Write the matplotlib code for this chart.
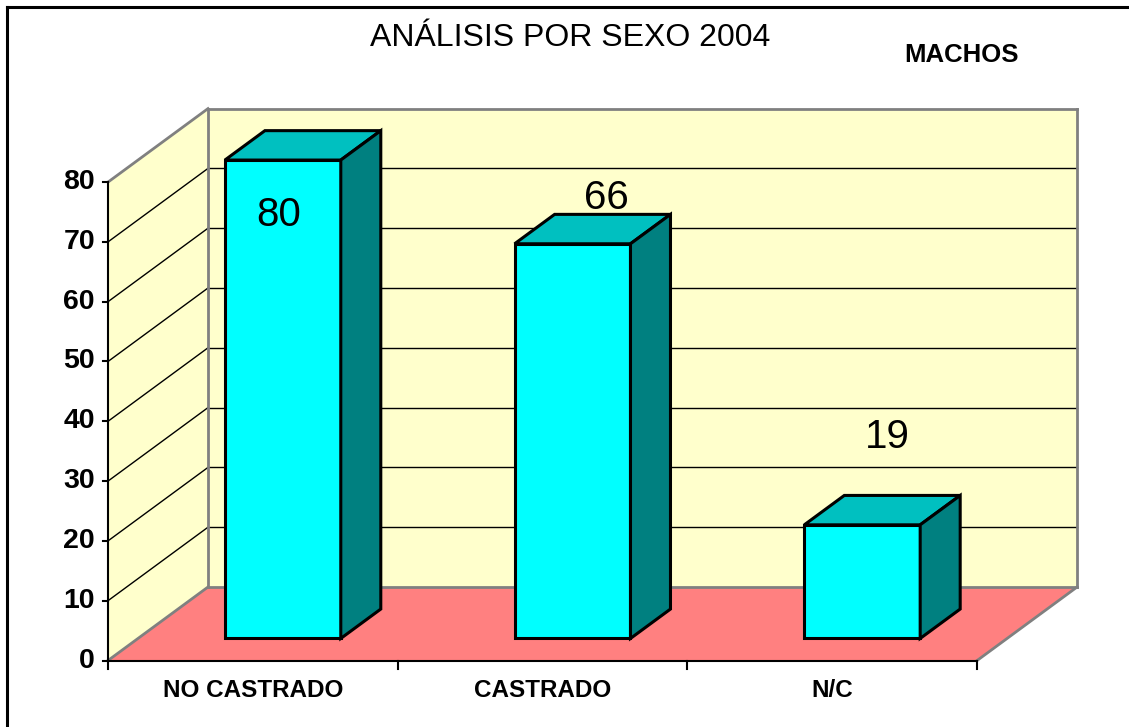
import matplotlib.pyplot as plt
from matplotlib.patches import Polygon
from matplotlib.lines import Line2D

categories = ['NO CASTRADO', 'CASTRADO', 'N/C']
values = [80, 66, 19]
yticks = [0, 10, 20, 30, 40, 50, 60, 70, 80]
title = 'ANÁLISIS POR SEXO 2004'
subtitle = 'MACHOS'

plt.rcParams['font.family'] = 'Liberation Sans'

W, H = 1129, 727
fig = plt.figure(figsize=(W / 100, H / 100), dpi=100)
ax = fig.add_axes([0, 0, 1, 1])

# front plane: one category = sx px, one value unit = sy px, origin at (ox, oy) px
sx, sy = 289.7, 5.98
ox, oy = 108, 660.5
ax.set_xlim(-ox / sx, (W - ox) / sx)
ax.set_ylim(-(H - oy) / sy, oy / sy)
ax.axis('off')

# full depth offset of the 3d box
DX, DY = 100 / sx, 73.5 / sy


def P(x, y, d):
    return (x + d * DX, y + d * DY)


n = len(categories)
ymax = yticks[-1]

# walls and floor
ax.add_patch(Polygon([P(0, 0, 0), P(0, 0, 1), P(0, ymax, 1), P(0, ymax, 0)],
                     fc='#FFFFCC', ec='none', zorder=1))
ax.add_patch(Polygon([P(0, 0, 1), P(n, 0, 1), P(n, ymax, 1), P(0, ymax, 1)],
                     fc='#FFFFCC', ec='none', zorder=1))
ax.add_patch(Polygon([P(0, 0, 0), P(n, 0, 0), P(n, 0, 1), P(0, 0, 1)],
                     fc='#FF8080', ec='none', zorder=1))

# gridlines on back and left wall
for v in yticks[1:-1]:
    a, b = P(0, v, 1), P(n, v, 1)
    ax.plot([a[0], b[0]], [a[1], b[1]], color='black', lw=1, zorder=2)
    a, b = P(0, v, 0), P(0, v, 1)
    ax.plot([a[0], b[0]], [a[1], b[1]], color='black', lw=1, zorder=2)

# grey box edges
edges = [
    (P(0, ymax, 1), P(n, ymax, 1)),
    (P(n, ymax, 1), P(n, 0, 1)),
    (P(0, 0, 1), P(n, 0, 1)),
    (P(0, 0, 1), P(0, ymax, 1)),
    (P(0, ymax, 0), P(0, ymax, 1)),
    (P(0, 0, 0), P(0, 0, 1)),
    (P(n, 0, 0), P(n, 0, 1)),
]
for a, b in edges:
    ax.plot([a[0], b[0]], [a[1], b[1]], color='#808080', lw=2, zorder=2,
            solid_capstyle='projecting')

# front axes
ax.plot([0, 0], [0, ymax], color='black', lw=1.5, zorder=3)
ax.plot([0, n], [0, 0], color='black', lw=1.5, zorder=3)
for v in yticks:
    ax.plot([-5 / sx, 0], [v, v], color='black', lw=1.5, zorder=3)
    ax.text(-13 / sx, v, str(v), ha='right', va='center', fontsize=20.5,
            fontweight='bold')
for i in range(n + 1):
    ax.plot([i, i], [0, -8 / sy], color='black', lw=1.5, zorder=3)
for i, c in enumerate(categories):
    ax.text(i + 0.5, -5, c, ha='center', va='center', fontsize=17.5,
            fontweight='bold')

# bars
w0, w1 = 0.3, 0.7
d0, d1 = 0.3, 0.7
for i, v in enumerate(values):
    x0, x1 = i + w0, i + w1
    front = [P(x0, 0, d0), P(x1, 0, d0), P(x1, v, d0), P(x0, v, d0)]
    top = [P(x0, v, d0), P(x1, v, d0), P(x1, v, d1), P(x0, v, d1)]
    side = [P(x1, 0, d0), P(x1, 0, d1), P(x1, v, d1), P(x1, v, d0)]
    for poly, col in [(front, '#00FFFF'), (top, '#00C0C0'), (side, '#008080')]:
        ax.add_patch(Polygon(poly, fc=col, ec='black', lw=2.2,
                             joinstyle='miter', zorder=4))

# value labels
label_dx = [0.09, 0.22, 0.19]
label_dy = [-5.5, 11.3, 18.4]
for i, v in enumerate(values):
    ax.text(i + 0.5 + label_dx[i], v + label_dy[i], str(v), ha='center',
            va='center', fontsize=29, zorder=5)

fig.text(570 / W, 1 - 38 / H, title, ha='center', va='center', fontsize=23)
fig.text(962 / W, 1 - 55 / H, subtitle, ha='center', va='center', fontsize=18.5,
         fontweight='bold')

# outer frame, only top and left edges are inside the picture
fig.add_artist(Line2D([7 / W, 1], [1 - 7 / H, 1 - 7 / H], color='black', lw=2.2,
                      transform=fig.transFigure))
fig.add_artist(Line2D([7 / W, 7 / W], [0, 1 - 7 / H], color='black', lw=2.2,
                      transform=fig.transFigure))

fig.savefig('out.png', dpi=100)
